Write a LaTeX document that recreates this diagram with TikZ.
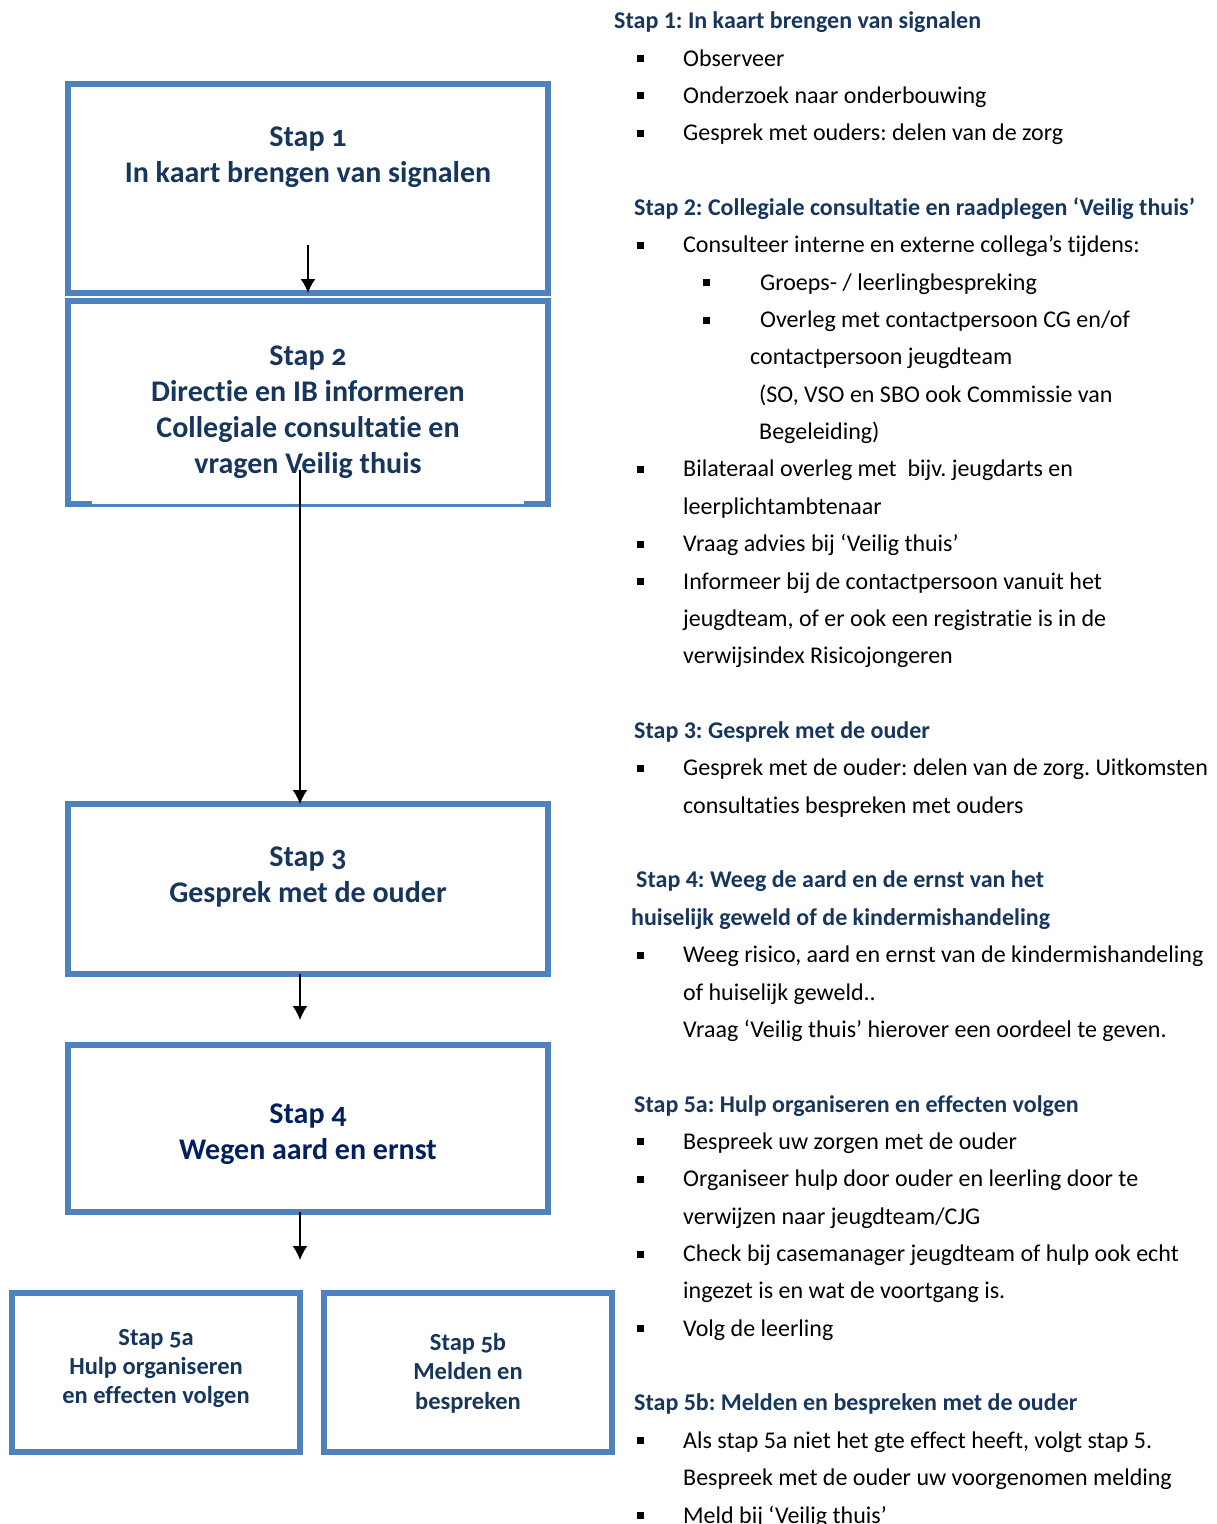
\documentclass[tikz,border=0pt]{standalone}
\usepackage{fontspec}
\setmainfont{Carlito}[Ligatures=NoCommon]
\newfontfamily\kaderfont[Numbers=OldStyle,Ligatures=NoCommon]{Carlito}
\usetikzlibrary{arrows.meta}
\frenchspacing
\definecolor{kaderblauw}{HTML}{4F81BD}
\definecolor{kopblauw}{HTML}{17365D}
\definecolor{donkerblauw}{HTML}{002060}
\tikzset{
  kader/.style={draw=kaderblauw, line width=6pt, minimum width=480pt, inner sep=0pt, outer sep=0pt},
  kaderlijn/.style={draw=kaderblauw, line width=6pt},
  kadertekst/.style={font=\kaderfont\bfseries\fontsize{30}{36}\selectfont, text=kopblauw, align=center, inner sep=0pt, anchor=base},
  pijl/.style={line width=1.5pt, -{Latex[length=14pt,width=15pt]}},
  kop/.style={font=\bfseries\fontsize{24}{28}\selectfont, text=kopblauw, anchor=base west, inner sep=0pt},
  regel/.style={font=\fontsize{24}{28}\selectfont, anchor=base west, inner sep=0pt},
}
% regels rechts: #1 = regelnummer, basislijn op 66 + 37.36*n
\newcommand\kopje[3]{\node[kop] (r#1) at (#2,{66+37.36*(#1)}) {#3};}
\newcommand\regel[3]{\node[regel] (r#1) at (#2,{66+37.36*(#1)}) {#3};}
\newcommand\punt[4]{\fill (#2-3.5,{66+37.36*(#1)-11}) rectangle ++(7,7);
  \node[regel] (r#1) at (#3,{66+37.36*(#1)}) {#4};}

\begin{document}
\begin{tikzpicture}[x=1pt,y=-1pt]
	\useasboundingbox (0,0) rectangle (1217,1524);
	
	%%%%% KADERS %%%%%
	\node[kader, minimum height=209pt] (stap1) at (308,188.5) {};
	\node[kader, draw=none, minimum height=203pt] (stap2) at (308,402.5) {};
	\draw[kaderlijn] (stap2.south west) -- (stap2.north west) -- (stap2.north east) -- (stap2.south east);
	\draw[kaderlijn] (65,504) -- (92,504);
	\draw[kaderlijn] (524,504) -- (551,504);
	\draw[draw=kaderblauw, line width=2.5pt] (92,505.5) -- (524,505.5);
	\node[kader, minimum height=170pt] (stap3) at (308,889) {};
	\node[kader, minimum height=167pt] (stap4) at (308,1128.5) {};
	\node[kader, minimum width=288pt, minimum height=159pt] (stap5a) at (156,1372.5) {};
	\node[kader, minimum width=288pt, minimum height=159pt] (stap5b) at (468,1372.5) {};
	
	% basis = basislijn van de laatste regel
	\node[kadertekst] (tekst1) at (308,182) {Stap 1\\In kaart brengen van signalen};
	\node[kadertekst] (tekst2) at (308,473) {Stap 2\\Directie en IB informeren\\Collegiale consultatie en\\vragen Veilig thuis};
	\node[kadertekst] (tekst3) at (308,902) {Stap 3\\Gesprek met de ouder};
	\node[kadertekst, text=donkerblauw] (tekst4) at (308,1159) {Stap 4\\Wegen aard en ernst};
	\node[kadertekst, font=\kaderfont\bfseries\fontsize{24.5}{28.7}\selectfont] (tekst5a) at (156,1403) {Stap 5a\\Hulp organiseren\\en effecten volgen};
	\node[kadertekst, font=\kaderfont\bfseries\fontsize{24.5}{29.5}\selectfont] (tekst5b) at (468,1409) {Stap 5b\\Melden en\\bespreken};
	
	%%%%% PIJLEN %%%%%
	\coordinate (p1) at (308,245);
	\draw[pijl] (p1) -- (stap1.south);
	\coordinate (p2) at (300,470);
	\draw[pijl] (p2) -- (p2 |- stap3.north);
	\coordinate (p3) at (300,1020);
	\draw[pijl] (p3 |- stap3.south) -- (p3);
	\coordinate (p4) at (300,1260);
	\draw[pijl] (p4 |- stap4.south) -- (p4);
	
	%%%%% TEKST RECHTS %%%%%
	\kopje{-1}{614}{Stap 1: In kaart brengen van signalen}
	\punt{0}{640}{683}{Observeer}
	\punt{1}{640}{683}{Onderzoek naar onderbouwing}
	\punt{2}{640}{683}{Gesprek met ouders: delen van de zorg}
	
	\kopje{4}{634}{Stap 2: Collegiale consultatie en raadplegen ‘Veilig thuis’}
	\punt{5}{640}{683}{Consulteer interne en externe collega’s tijdens:}
	\punt{6}{706}{760}{Groeps- / leerlingbespreking}
	\punt{7}{706}{760}{Overleg met contactpersoon CG en/of}
	\regel{8}{750}{contactpersoon jeugdteam}
	\regel{9}{759}{(SO, VSO en SBO ook Commissie van}
	\regel{10}{759}{Begeleiding)}
	\punt{11}{640}{683}{Bilateraal overleg met~ bijv. jeugdarts en}
	\regel{12}{683}{leerplichtambtenaar}
	\punt{13}{640}{683}{Vraag advies bij ‘Veilig thuis’}
	\punt{14}{640}{683}{Informeer bij de contactpersoon vanuit het}
	\regel{15}{683}{jeugdteam, of er ook een registratie is in de}
	\regel{16}{683}{verwijsindex Risicojongeren}
	
	\kopje{18}{634}{Stap 3: Gesprek met de ouder}
	\punt{19}{640}{683}{Gesprek met de ouder: delen van de zorg. Uitkomsten}
	\regel{20}{683}{consultaties bespreken met ouders}
	
	\kopje{22}{636}{Stap 4: Weeg de aard en de ernst van het}
	\kopje{23}{631}{huiselijk geweld of de kindermishandeling}
	\punt{24}{640}{683}{Weeg risico, aard en ernst van de kindermishandeling}
	\regel{25}{683}{of huiselijk geweld..}
	\regel{26}{683}{Vraag ‘Veilig thuis’ hierover een oordeel te geven.}
	
	\kopje{28}{634}{Stap 5a: Hulp organiseren en effecten volgen}
	\punt{29}{640}{683}{Bespreek uw zorgen met de ouder}
	\punt{30}{640}{683}{Organiseer hulp door ouder en leerling door te}
	\regel{31}{683}{verwijzen naar jeugdteam/CJG}
	\punt{32}{640}{683}{Check bij casemanager jeugdteam of hulp ook echt}
	\regel{33}{683}{ingezet is en wat de voortgang is.}
	\punt{34}{640}{683}{Volg de leerling}
	
	\kopje{36}{634}{Stap 5b: Melden en bespreken met de ouder}
	\punt{37}{640}{683}{Als stap 5a niet het gte effect heeft, volgt stap 5.}
	\regel{38}{683}{Bespreek met de ouder uw voorgenomen melding}
	\punt{39}{640}{683}{Meld bij ‘Veilig thuis’}
\end{tikzpicture}
\end{document}
